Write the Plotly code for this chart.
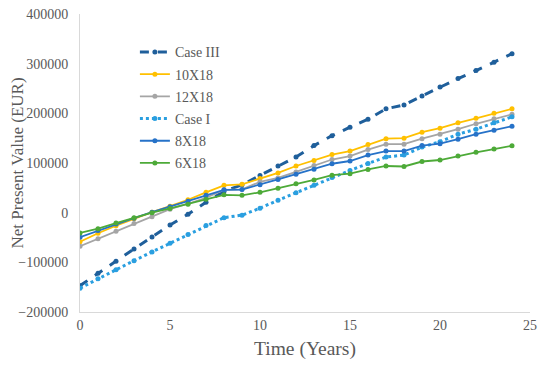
import plotly.graph_objects as go

years = list(range(25))

case_iii = [-147000, -122000, -98000, -73000, -49000, -25000, -3000, 21000, 43000, 56000,
            75000, 94000, 112000, 135000, 155000, 172000, 188000, 209000, 217000, 235000,
            253000, 270000, 286000, 303000, 320000]
x10x18 = [-58500, -41400, -26300, -12000, 1000, 13000, 26000, 41000, 55000, 57000,
          69000, 80000, 94000, 105000, 117000, 124000, 137000, 149000, 150000, 162000,
          170000, 181000, 190000, 200000, 209000]
x12x18 = [-67700, -52600, -37500, -22000, -8000, 7000, 18000, 30000, 46000, 47000,
          62000, 70000, 82000, 95000, 107000, 114000, 127000, 138000, 138000, 149000,
          158000, 168000, 179000, 189000, 198000]
case_i = [-152000, -133000, -115000, -96600, -79000, -61700, -44000, -26000, -10000, -5000,
          9000, 25000, 40000, 55000, 71000, 85000, 99000, 112000, 116000, 132000,
          143000, 158000, 168000, 181000, 193000]
x8x18 = [-49300, -36100, -23000, -11000, 1000, 12000, 23000, 35000, 46000, 46500,
         56000, 67000, 77500, 87500, 98500, 104000, 116000, 124000, 124000, 135000,
         139000, 148000, 158000, 166000, 174000]
x6x18 = [-40800, -32200, -21000, -10000, 0, 8500, 17000, 27000, 36000, 35000,
         41000, 49000, 58000, 66000, 75500, 78500, 87000, 94000, 93000, 103000,
         106000, 114000, 121500, 128000, 134700]

series = [
    ("Case III", case_iii, "#1F5F9B", "dash", 3, 5),
    ("10X18", x10x18, "#FFC000", "solid", 1.8, 5),
    ("12X18", x12x18, "#A5A5A5", "solid", 1.8, 5),
    ("Case I", case_i, "#2A9FE0", "dot", 3, 5),
    ("8X18", x8x18, "#2672C8", "solid", 1.8, 5),
    ("6X18", x6x18, "#4DAA38", "solid", 1.8, 5),
]

FF = "Liberation Serif, Times New Roman, serif"
GREY = "#595959"

fig = go.Figure()
for name, vals, color, dash, w, ms in series:
    fig.add_trace(go.Scatter(
        x=years, y=vals, name=name, mode="lines+markers",
        line=dict(color=color, dash=dash, width=w),
        marker=dict(color=color, size=ms, symbol="circle"),
        legendgroup=name,
    ))

fig.update_layout(
    width=534, height=358,
    margin=dict(l=72, r=12, t=6, b=54, autoexpand=False),
    paper_bgcolor="white", plot_bgcolor="white",
    font=dict(family=FF, color=GREY, size=13),
    showlegend=True,
    legend=dict(x=0.122, y=0.925, xanchor="left", yanchor="top",
                bgcolor="rgba(0,0,0,0)", font=dict(family=FF, size=14, color=GREY),
                traceorder="grouped", tracegroupgap=1, itemwidth=30),
    xaxis=dict(range=[0, 25], dtick=5, tick0=0, showgrid=False, zeroline=False,
               showline=True, linecolor="#D9D9D9", linewidth=1, ticks="",
               automargin=False, ticklabeloverflow="allow",
               tickfont=dict(family=FF, size=14, color=GREY),
               title=dict(text="Time (Years)", font=dict(family=FF, size=19.5, color=GREY), standoff=9)),
    yaxis=dict(range=[-200000, 400000], dtick=100000, showgrid=False, zeroline=False,
               showline=True, linecolor="#D9D9D9", linewidth=1, ticks="outside",
               ticklen=8, tickcolor="rgba(0,0,0,0)", automargin=False,
               ticklabeloverflow="allow",
               tickformat="d", tickfont=dict(family=FF, size=14, color=GREY),
               title=dict(text="Net Present Value (EUR)", font=dict(family=FF, size=17, color=GREY), standoff=9)),
)

fig.write_html("out.html")
